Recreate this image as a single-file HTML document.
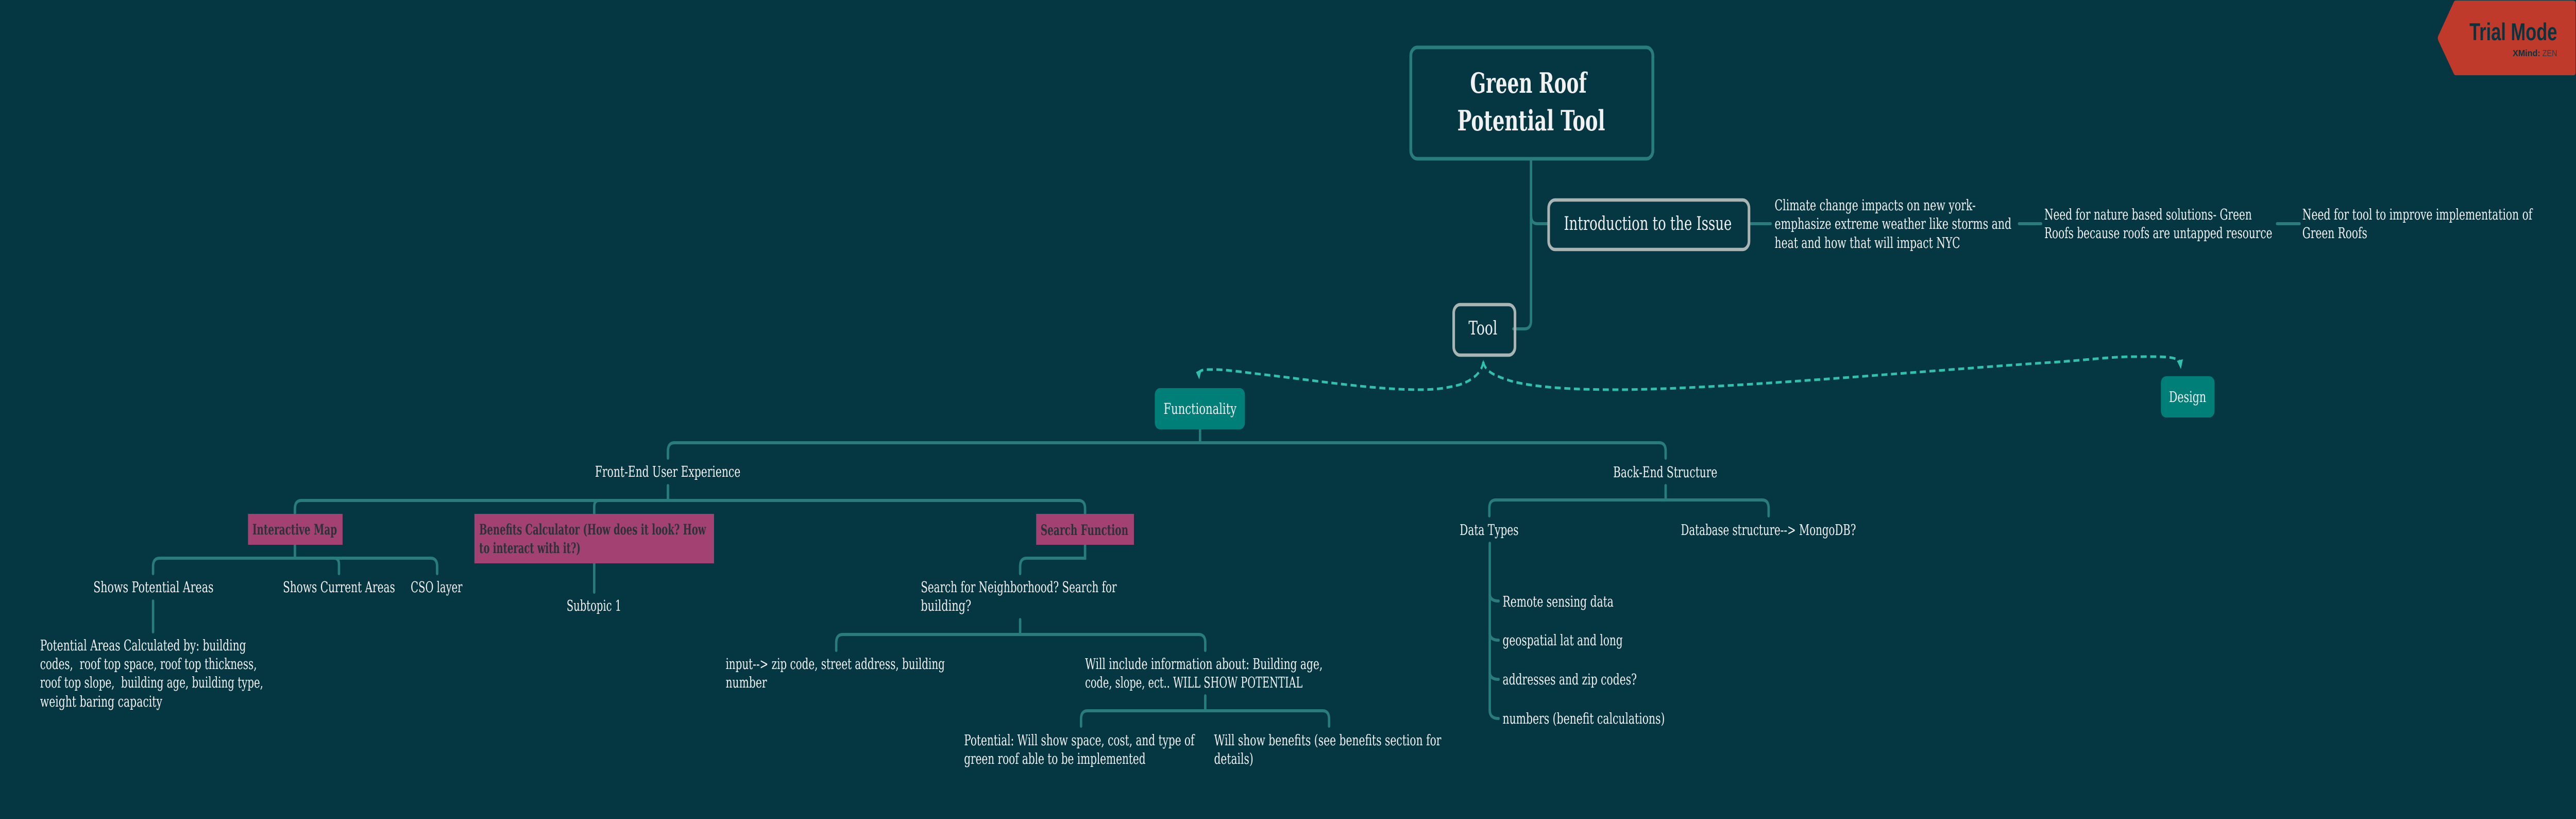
<!DOCTYPE html>
<html lang="en">
<head>
<meta charset="utf-8">
<title>Green Roof Potential Tool</title>
<style>
html,body{margin:0;padding:0;background:#053742;width:100%;height:100%}
svg{display:block;position:fixed;left:0;top:0;width:100vw;height:100vh}
text{font-family:"DejaVu Serif","Liberation Serif",serif;fill:#f1f1f1;font-size:29px}
.conn{fill:none;stroke:#277d7b;stroke-width:6;stroke-linecap:round}
.dash{fill:none;stroke:#2ec2ad;stroke-width:5;stroke-dasharray:15 9}
.arrow{fill:#2ec2ad}
.main{fill:none;stroke:#aab4b3;stroke-width:6.5}
.teal{fill:#007f78}
.pink{fill:#a34272}
.pink-t{fill:#2b3238;font-weight:bold;font-size:28px}
</style>
</head>
<body>
<svg xmlns="http://www.w3.org/2000/svg" viewBox="0 0 6429 1589" preserveAspectRatio="none">
<rect width="6429" height="1589" fill="#053742"/>

<g>
<path class="conn" d="M3821 311V622Q3821 638 3805 638H3777"/>
<path class="conn" d="M3821 418Q3821 434 3837 434H3862"/>
<path class="conn" d="M4368 434H4419"/>
<path class="conn" d="M5039 434H5094"/>
<path class="conn" d="M5683 434H5739"/>
<path class="conn" d="M2995 833V859"/>
<path class="conn" d="M1667 889V875Q1667 859 1683 859H4141Q4157 859 4157 875V889"/>
<path class="conn" d="M1667 942V971"/>
<path class="conn" d="M736 997V987Q736 971 752 971H2692Q2708 971 2708 987V997"/>
<path class="conn" d="M1483 997V983Q1483 971 1495 971"/>
<path class="conn" d="M736 1057V1083"/>
<path class="conn" d="M382 1113V1099Q382 1083 398 1083H1075Q1091 1083 1091 1099V1113"/>
<path class="conn" d="M834 1083Q846 1083 846 1095V1113"/>
<path class="conn" d="M382 1166V1226"/>
<path class="conn" d="M1483 1093V1149"/>
<path class="conn" d="M2708 1057V1083H2562Q2546 1083 2546 1099V1113"/>
<path class="conn" d="M2546 1202V1231"/>
<path class="conn" d="M2087 1262V1247Q2087 1231 2103 1231H2992Q3008 1231 3008 1247V1262"/>
<path class="conn" d="M3008 1350V1379"/>
<path class="conn" d="M2698 1409V1395Q2698 1379 2714 1379H3301Q3317 1379 3317 1395V1409"/>
<path class="conn" d="M4157 942V970"/>
<path class="conn" d="M3717 1001V986Q3717 970 3733 970H4398Q4414 970 4414 986V1001"/>
<path class="conn" d="M3718 1054V1378Q3718 1394 3740 1394"/>
<path class="conn" d="M3718 1152Q3718 1166 3740 1166"/>
<path class="conn" d="M3718 1228Q3718 1242 3740 1242"/>
<path class="conn" d="M3718 1304Q3718 1318 3740 1318"/>
</g>

<g>
<path class="dash" d="M3702 702C3698 725 3670 740 3640 747C3600 755 3570 756 3541 756C3430 756 3280 738 3157 727C3100 722 3060 717 3032 717C3010 717 2996 716 2992 724"/>
<path class="dash" d="M3702 702C3706 722 3735 730 3770 739C3830 752 3930 756 4032 756C4300 756 4850 716 5121 703C5200 699 5270 692 5320 692C5385 692 5432 690 5440 702"/>
<polygon class="arrow" points="2985,722 2999,716 2993,736"/>
<polygon class="arrow" points="5433,700 5448,697 5443,716"/>
<polygon class="arrow" points="3702,698 3708,716 3702,708 3696,716"/>
</g>

<g>
<rect x="3521" y="92" width="604" height="216" rx="16" fill="none" stroke="#277d7b" stroke-width="7"/>
<text x="3669" y="180" style="font-size:54px;font-weight:bold" textLength="291" lengthAdjust="spacingAndGlyphs">Green Roof</text>
<text x="3637" y="253" style="font-size:54px;font-weight:bold" textLength="369" lengthAdjust="spacingAndGlyphs">Potential Tool</text>
</g>

<g>
<rect class="main" x="3865" y="388" width="500" height="96" rx="16"/>
<text x="3903" y="446" style="font-size:36px" textLength="419" lengthAdjust="spacingAndGlyphs">Introduction to the Issue</text>
</g>
<g>
<rect class="main" x="3628" y="591" width="153" height="98" rx="16"/>
<text x="3665" y="649" style="font-size:36px" textLength="72" lengthAdjust="spacingAndGlyphs">Tool</text>
</g>

<g>
<text x="4429" y="408" textLength="502" lengthAdjust="spacingAndGlyphs">Climate change impacts on new york-</text>
<text x="4429" y="444" textLength="591" lengthAdjust="spacingAndGlyphs">emphasize extreme weather like storms and</text>
<text x="4429" y="481" textLength="463" lengthAdjust="spacingAndGlyphs">heat and how that will impact NYC</text>
</g>
<g>
<text x="5102" y="426" textLength="518" lengthAdjust="spacingAndGlyphs">Need for nature based solutions- Green</text>
<text x="5102" y="462" textLength="569" lengthAdjust="spacingAndGlyphs">Roofs because roofs are untapped resource</text>
</g>
<g>
<text x="5746" y="426" textLength="574" lengthAdjust="spacingAndGlyphs">Need for tool to improve implementation of</text>
<text x="5746" y="462" textLength="162" lengthAdjust="spacingAndGlyphs">Green Roofs</text>
</g>

<g>
<rect class="teal" x="2882" y="753" width="225" height="80" rx="13"/>
<text x="2904" y="803" textLength="182" lengthAdjust="spacingAndGlyphs">Functionality</text>
</g>
<g>
<rect class="teal" x="5393" y="730" width="134" height="80" rx="13"/>
<text x="5413" y="780" textLength="93" lengthAdjust="spacingAndGlyphs">Design</text>
</g>

<text x="1485" y="925" textLength="363" lengthAdjust="spacingAndGlyphs">Front-End User Experience</text>
<text x="4026" y="926" textLength="260" lengthAdjust="spacingAndGlyphs">Back-End Structure</text>

<g>
<rect class="pink" x="619" y="997" width="236" height="60"/>
<text class="pink-t" x="630" y="1037" textLength="211" lengthAdjust="spacingAndGlyphs">Interactive Map</text>
</g>
<g>
<rect class="pink" x="1184" y="997" width="598" height="96"/>
<text class="pink-t" x="1196" y="1037" textLength="566" lengthAdjust="spacingAndGlyphs">Benefits Calculator (How does it look? How</text>
<text class="pink-t" x="1196" y="1073" textLength="253" lengthAdjust="spacingAndGlyphs">to interact with it?)</text>
</g>
<g>
<rect class="pink" x="2586" y="997" width="244" height="60"/>
<text class="pink-t" x="2597" y="1038" textLength="219" lengthAdjust="spacingAndGlyphs">Search Function</text>
</g>

<text x="233" y="1149" textLength="300" lengthAdjust="spacingAndGlyphs">Shows Potential Areas</text>
<text x="706" y="1149" textLength="280" lengthAdjust="spacingAndGlyphs">Shows Current Areas</text>
<text x="1025" y="1149" textLength="129" lengthAdjust="spacingAndGlyphs">CSO layer</text>
<text x="1414" y="1185" textLength="137" lengthAdjust="spacingAndGlyphs">Subtopic 1</text>

<g>
<text x="100" y="1262" textLength="514" lengthAdjust="spacingAndGlyphs">Potential Areas Calculated by: building</text>
<text x="100" y="1298" textLength="541" lengthAdjust="spacingAndGlyphs" xml:space="preserve">codes,  roof top space, roof top thickness,</text>
<text x="100" y="1334" textLength="557" lengthAdjust="spacingAndGlyphs" xml:space="preserve">roof top slope,  building age, building type,</text>
<text x="100" y="1371" textLength="305" lengthAdjust="spacingAndGlyphs">weight baring capacity</text>
</g>

<g>
<text x="2298" y="1149" textLength="489" lengthAdjust="spacingAndGlyphs">Search for Neighborhood? Search for</text>
<text x="2298" y="1185" textLength="126" lengthAdjust="spacingAndGlyphs">building?</text>
</g>
<g>
<text x="1811" y="1298" textLength="547" lengthAdjust="spacingAndGlyphs">input--&gt; zip code, street address, building</text>
<text x="1811" y="1334" textLength="103" lengthAdjust="spacingAndGlyphs">number</text>
</g>
<g>
<text x="2708" y="1298" textLength="593" lengthAdjust="spacingAndGlyphs">Will include information about: Building age,</text>
<text x="2708" y="1334" textLength="543" lengthAdjust="spacingAndGlyphs">code, slope, ect.. WILL SHOW POTENTIAL</text>
</g>
<g>
<text x="2406" y="1446" textLength="575" lengthAdjust="spacingAndGlyphs">Potential: Will show space, cost, and type of</text>
<text x="2406" y="1482" textLength="453" lengthAdjust="spacingAndGlyphs">green roof able to be implemented</text>
</g>
<g>
<text x="3030" y="1446" textLength="567" lengthAdjust="spacingAndGlyphs">Will show benefits (see benefits section for</text>
<text x="3030" y="1482" textLength="98" lengthAdjust="spacingAndGlyphs">details)</text>
</g>

<text x="3643" y="1038" textLength="147" lengthAdjust="spacingAndGlyphs">Data Types</text>
<text x="4195" y="1038" textLength="437" lengthAdjust="spacingAndGlyphs">Database structure--&gt; MongoDB?</text>
<text x="3750" y="1177" textLength="277" lengthAdjust="spacingAndGlyphs">Remote sensing data</text>
<text x="3750" y="1252" textLength="300" lengthAdjust="spacingAndGlyphs">geospatial lat and long</text>
<text x="3750" y="1328" textLength="335" lengthAdjust="spacingAndGlyphs">addresses and zip codes?</text>
<text x="3750" y="1404" textLength="405" lengthAdjust="spacingAndGlyphs">numbers (benefit calculations)</text>

<g>
<path fill="#c03a2b" d="M6129 1H6422Q6428 1 6428 6V141Q6428 146 6422 146H6129Q6126 146 6124 143L6085 78Q6083 74 6085 70L6124 4Q6126 1 6129 1Z"/>
<text x="6163" y="78" style="font-family:'Liberation Sans',sans-serif;font-size:47px;font-weight:bold;fill:#063541" textLength="219" lengthAdjust="spacingAndGlyphs">Trial Mode</text>
<text x="6271" y="109" style="font-family:'Liberation Sans',sans-serif;font-size:18px;font-weight:bold;fill:#063541" textLength="69" lengthAdjust="spacingAndGlyphs">XMind:</text>
<text x="6345" y="109" style="font-family:'Liberation Sans',sans-serif;font-size:18px;fill:#2f3b45" textLength="37" lengthAdjust="spacingAndGlyphs">ZEN</text>
</g>
</svg>
</body>
</html>
